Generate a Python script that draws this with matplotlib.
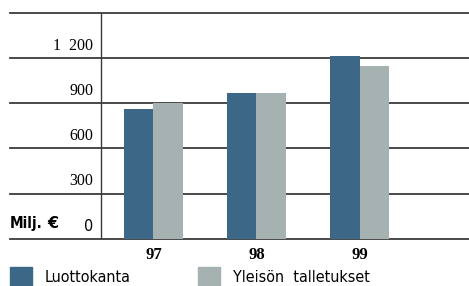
import matplotlib.pyplot as plt
import numpy as np

years = ['97', '98', '99']
luottokanta = [865, 971, 1217]
talletukset = [903, 971, 1150]
yticks = [0, 300, 600, 900, 1200, 1500]
ylabels = ['0', '300', '600', '900', '1  200', '']

blue = '#3c6787'
grey = '#a6b1b1'
line_col = '#3a3a3a'
sans = ['DejaVu Sans']
serif = ['Liberation Serif', 'DejaVu Serif']

fig = plt.figure(figsize=(4.69, 2.86), dpi=100)
ax = fig.add_axes([10 / 469, 1 - 238.7 / 286, 1 - 10 / 469, (238.7 - 13) / 286])

x = np.arange(len(years))
w = 0.285
ax.bar(x - w / 2, luottokanta, w, color=blue, zorder=3)
ax.bar(x + w / 2, talletukset, w, color=grey, zorder=3)

xmin, xmax = -1.393, 3.063
ax.set_xlim(xmin, xmax)
ax.set_ylim(0, 1500)

# horizontal rules and the single vertical divider
for t in yticks:
    ax.axhline(t, color=line_col, lw=1.3, zorder=2, clip_on=False)
ax.axvline(-0.51, color=line_col, lw=1.0, zorder=2)

# y labels sit just above each rule
for t, lab in zip(yticks, ylabels):
    if lab:
        ax.text(-0.585, t + 30, lab, ha='right', va='bottom',
                fontsize=11.5, family=serif if t else sans,
                fontstretch='condensed', color='black')

ax.text(-1.393, 50, 'Milj.', ha='left', va='bottom', fontsize=11,
        family=sans, fontstretch='condensed', fontweight='semibold')
ax.text(-1.03, 50, '€', ha='left', va='bottom', fontsize=11.5,
        family=sans, fontweight='bold')

for xi, lab in zip(x, years):
    ax.text(xi, -55, lab, ha='center', va='top', fontsize=12,
            family=serif, fontweight='bold')

ax.set_xticks([])
ax.set_yticks([])
for s in ax.spines.values():
    s.set_visible(False)

# legend drawn by hand as squares + text below the axis
fig.patches.append(plt.Rectangle((10 / 469, 0), 22 / 469, 19 / 286,
                                 transform=fig.transFigure, color=blue))
fig.patches.append(plt.Rectangle((198 / 469, 0), 22 / 469, 19 / 286,
                                 transform=fig.transFigure, color=grey))
fig.text(45 / 469, 1 / 286, 'Luottokanta', fontsize=11.5, family=sans,
         fontstretch='condensed', va='bottom', ha='left')
fig.text(233 / 469, 1 / 286, 'Yleisön  talletukset', fontsize=11.5,
         family=sans, fontstretch='condensed', va='bottom', ha='left')

fig.savefig('out.png', dpi=100)
